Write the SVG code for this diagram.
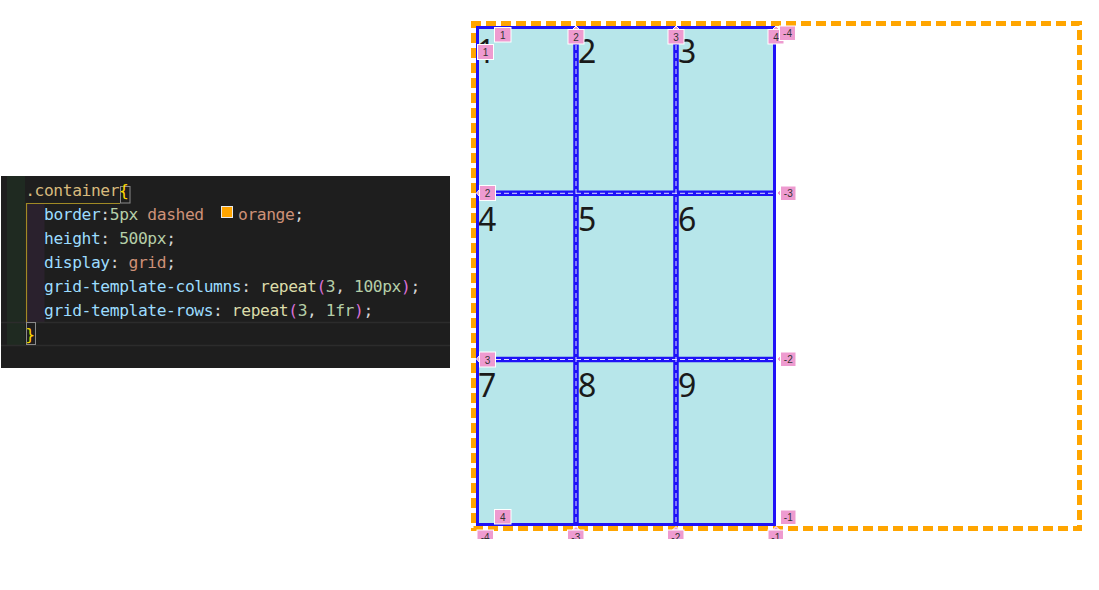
<svg xmlns="http://www.w3.org/2000/svg" width="1099" height="590" viewBox="0 0 1099 590">
<style>
.code{font-family:"DejaVu Sans Mono","Liberation Mono",monospace;font-size:16.3px;letter-spacing:-0.41px;fill:#d4d4d4;}
.p{fill:#9cdcfe}.n{fill:#b5cea8}.s{fill:#ce9178}.f{fill:#dcdcaa}.b1{fill:#ffd700}.b2{fill:#da70d6}.sel{fill:#d7ba7d}
.big{font-family:"Noto Sans","Open Sans",sans-serif;font-size:32px;fill:#1a1a1a;}
.cell{fill:#b7e6ea}
.gl{stroke:#1f12f7;stroke-width:5.5;fill:none}
.gd{stroke:#fff;stroke-width:1;stroke-dasharray:5 3;fill:none;opacity:0.85}
.badge rect,.badge path{fill:#ee9bd0;stroke:#fff;stroke-width:1}
.badge text{font-family:"Liberation Sans","DejaVu Sans",sans-serif;font-size:10px;fill:#333;text-anchor:middle}
</style>
<defs>
<clipPath id="clipBottom"><rect x="0" y="0" width="1099" height="539"/></clipPath>
</defs>
<rect width="1099" height="590" fill="#fff"/>

<g id="code-panel">
<rect x="1" y="176" width="449" height="192" fill="#1e1e1e"/>
<rect x="7" y="176" width="18" height="170" fill="#1f2a21"/>
<rect x="26" y="203" width="18.5" height="119" fill="#2a212d"/>
<line x1="1" y1="322.5" x2="450" y2="322.5" stroke="#2c2c2c" stroke-width="1.5"/>
<line x1="1" y1="345.5" x2="450" y2="345.5" stroke="#2c2c2c" stroke-width="1.5"/>
<path d="M26.5 322 V203.5 H120" fill="none" stroke="#a08a25" stroke-width="1.2"/>
<rect x="120.5" y="186.5" width="9.5" height="16.5" fill="none" stroke="#8a8a8a" stroke-width="1"/>
<rect x="26.5" y="322.5" width="9" height="22" fill="none" stroke="#8a8a8a" stroke-width="1"/>
<text class="code" x="25.2" y="196"><tspan class="sel">.container</tspan><tspan class="b1">{</tspan></text>
<text class="code" x="44" y="220"><tspan class="p">border</tspan>:<tspan class="n">5px</tspan> <tspan class="s">dashed</tspan> </text>
<rect x="221.5" y="206.5" width="11" height="11" fill="#ffa500" stroke="#e8e8e8" stroke-width="1"/>
<text class="code" x="238" y="220"><tspan class="s">orange</tspan>;</text>
<text class="code" x="44" y="244"><tspan class="p">height</tspan>: <tspan class="n">500px</tspan>;</text>
<text class="code" x="44" y="268"><tspan class="p">display</tspan>: <tspan class="s">grid</tspan>;</text>
<text class="code" x="44" y="292"><tspan class="p">grid-template-columns</tspan>: <tspan class="f">repeat</tspan><tspan class="b2">(</tspan><tspan class="n">3</tspan>, <tspan class="n">100px</tspan><tspan class="b2">)</tspan>;</text>
<text class="code" x="44" y="316"><tspan class="p">grid-template-rows</tspan>: <tspan class="f">repeat</tspan><tspan class="b2">(</tspan><tspan class="n">3</tspan>, <tspan class="n">1fr</tspan><tspan class="b2">)</tspan>;</text>
<text class="code" x="25.2" y="340"><tspan class="b1">}</tspan></text>
</g>

<g id="container">
<rect x="473.5" y="23.5" width="606" height="505" fill="none" stroke="#ffa500" stroke-width="5" stroke-dasharray="10 5" stroke-dashoffset="2.5"/>
</g>

<g id="cell-1"><rect class="cell" x="478" y="28" width="98" height="165"/><text class="big" x="477" y="63">1</text></g>
<g id="cell-2"><rect class="cell" x="576" y="28" width="100" height="165"/><text class="big" x="578" y="63">2</text></g>
<g id="cell-3"><rect class="cell" x="676" y="28" width="99" height="165"/><text class="big" x="678" y="63">3</text></g>
<g id="cell-4"><rect class="cell" x="478" y="193" width="98" height="166.5"/><text class="big" x="478" y="231">4</text></g>
<g id="cell-5"><rect class="cell" x="576" y="193" width="100" height="166.5"/><text class="big" x="578" y="231">5</text></g>
<g id="cell-6"><rect class="cell" x="676" y="193" width="99" height="166.5"/><text class="big" x="678" y="231">6</text></g>
<g id="cell-7"><rect class="cell" x="478" y="359.5" width="98" height="165"/><text class="big" x="478" y="397">7</text></g>
<g id="cell-8"><rect class="cell" x="576" y="359.5" width="100" height="165"/><text class="big" x="578" y="397">8</text></g>
<g id="cell-9"><rect class="cell" x="676" y="359.5" width="99" height="165"/><text class="big" x="678" y="397">9</text></g>

<g id="grid-lines">
<rect x="477.5" y="27.5" width="297" height="497" fill="none" stroke="#1f12f7" stroke-width="3"/>
<line class="gl" x1="576" y1="26" x2="576" y2="526"/>
<line class="gl" x1="676" y1="26" x2="676" y2="526"/>
<line class="gl" x1="477" y1="193.3" x2="776" y2="193.3"/>
<line class="gl" x1="477" y1="359.5" x2="776" y2="359.5"/>
<line class="gd" x1="576" y1="29" x2="576" y2="523"/>
<line class="gd" x1="676" y1="29" x2="676" y2="523"/>
<line class="gd" x1="480" y1="193.3" x2="773" y2="193.3"/>
<line class="gd" x1="480" y1="359.5" x2="773" y2="359.5"/>
</g>

<g id="badges" class="badge">
<g><rect x="494.5" y="27.5" width="16.5" height="14.5"/><text x="502.7" y="38.5">1</text></g>
<g><path d="M572.5 29.5 L576 26 L579.5 29.5 Z"/><rect x="568" y="29.5" width="16" height="14.5"/><text x="576" y="40.5">2</text></g>
<g><path d="M672.5 29.5 L676 26 L679.5 29.5 Z"/><rect x="668" y="29.5" width="16" height="14.5"/><text x="676" y="40.5">3</text></g>
<g><path d="M772.5 29.5 L776 26 L779.5 29.5 Z"/><rect x="768" y="29.5" width="16" height="14.5"/><text x="776" y="40.5">4</text></g>
<g><rect x="779.5" y="26" width="16" height="14.5"/><text x="787.5" y="37">-4</text></g>
<g><rect x="477.5" y="44.5" width="16" height="15"/><text x="485.5" y="56">1</text></g>
<g><path d="M479.5 189.5 L476.5 193 L479.5 196.5 Z"/><rect x="479.5" y="185.5" width="16" height="15"/><text x="487.5" y="197">2</text></g>
<g><path d="M479.5 355.5 L476.5 359 L479.5 362.5 Z"/><rect x="479.5" y="352" width="16" height="15"/><text x="487.5" y="363.5">3</text></g>
<g><rect x="494.5" y="509.5" width="16.5" height="14.5"/><text x="502.7" y="520.5">4</text></g>
<g><path d="M780.5 189.5 L777 193 L780.5 196.5 Z"/><rect x="780.5" y="186" width="15.5" height="14.5"/><text x="788.3" y="197">-3</text></g>
<g><path d="M780.5 355.5 L777 359 L780.5 362.5 Z"/><rect x="780.5" y="352" width="15.5" height="14.5"/><text x="788.3" y="363">-2</text></g>
<g><rect x="780.5" y="510" width="15.5" height="14.5"/><text x="788.3" y="521">-1</text></g>
<g clip-path="url(#clipBottom)">
<g><rect x="477" y="530" width="16.5" height="15"/><text x="485.2" y="541">-4</text></g>
<g><path d="M572.5 530 L576 526.5 L579.5 530 Z"/><rect x="567.5" y="530" width="16.5" height="15"/><text x="575.8" y="541">-3</text></g>
<g><path d="M672.5 530 L676 526.5 L679.5 530 Z"/><rect x="667.5" y="530" width="16.5" height="15"/><text x="675.8" y="541">-2</text></g>
<g><path d="M772.5 530 L776 526.5 L779.5 530 Z"/><rect x="768" y="530" width="15.5" height="15"/><text x="775.8" y="541">-1</text></g>
</g>
</g>
</svg>
